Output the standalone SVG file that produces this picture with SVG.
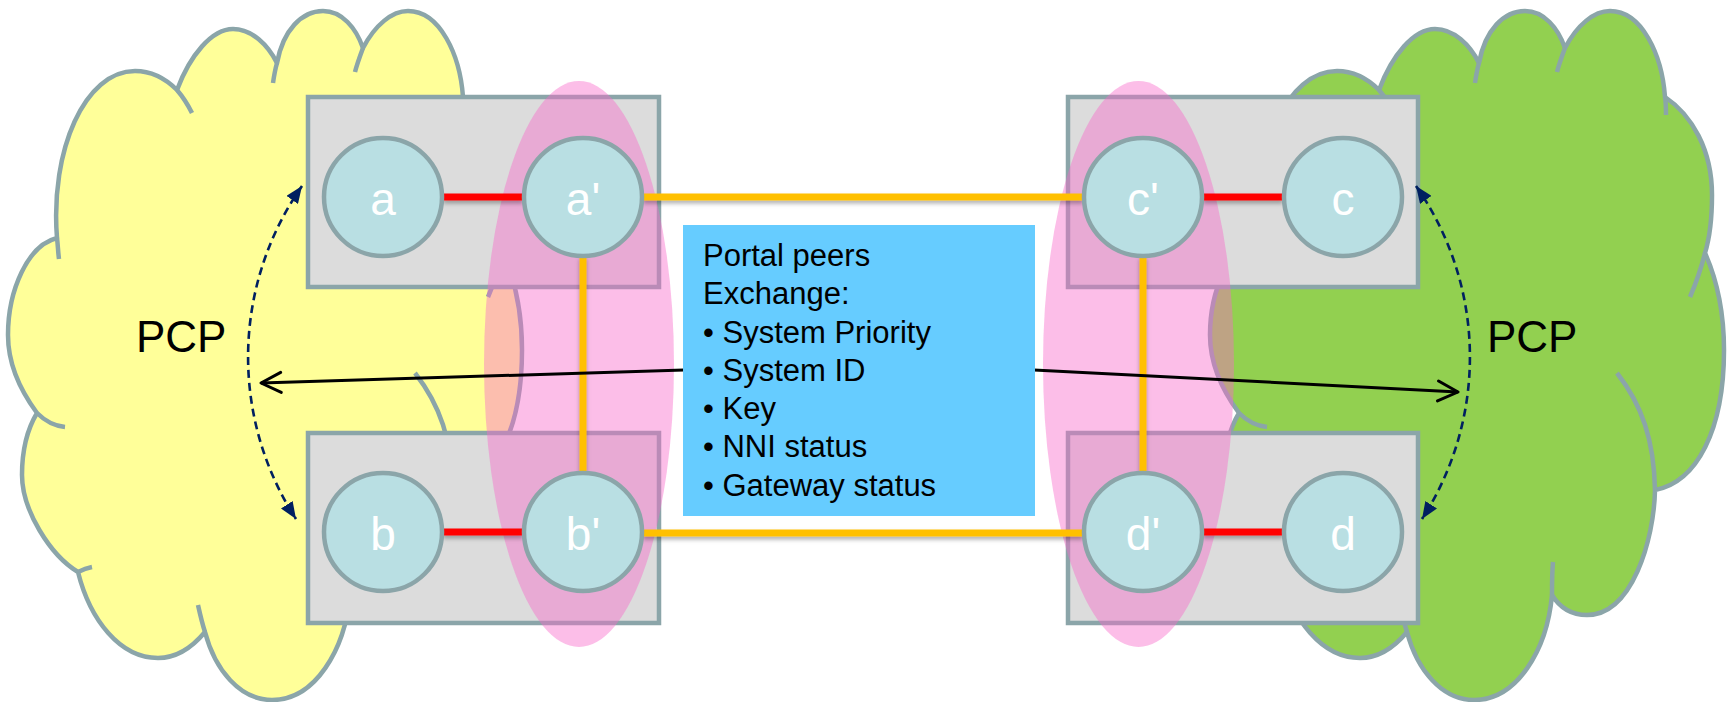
<svg xmlns="http://www.w3.org/2000/svg" xmlns:xlink="http://www.w3.org/1999/xlink" width="1730" height="702" viewBox="0 0 1730 702">
  <defs>
    <style>
      .cloud-edge { stroke: #8BA5A9; stroke-width: 4.5; stroke-linejoin: round; }
      .cloud-tail { fill: none; stroke: #8BA5A9; stroke-width: 4.5; stroke-linecap: butt; }
      .box { fill: #DCDCDC; stroke: #8BA5A9; stroke-width: 4.5; }
      .portal { fill: rgb(248,104,201); fill-opacity: 0.43; }
      .port { fill: #B9DFE3; stroke: #8BA5A9; stroke-width: 4.5; }
      .port-label { font-family: "Liberation Sans", Arial, sans-serif; font-size: 46px; fill: #FFFFFF; text-anchor: middle; }
      .link-local { stroke: #FF0000; stroke-width: 7; fill: none; filter: url(#lineShadow); }
      .link-ipl { stroke: #FFC000; stroke-width: 7; fill: none; filter: url(#lineShadow); }
      .exchange { stroke: #000000; stroke-width: 3; fill: none; marker-end: url(#openArrow); }
      .pcp-arc { stroke: #002060; stroke-width: 2.6; fill: none; stroke-dasharray: 8 5; marker-start: url(#navyHead); marker-end: url(#navyHead); }
      .pcp-label { font-family: "Liberation Sans", Arial, sans-serif; font-size: 44px; fill: #000000; }
      .info-text { font-family: "Liberation Sans", Arial, sans-serif; font-size: 31px; fill: #000000; }
    </style>
    <!-- soft shadow under the link lines; user-space region so zero-height lines still render -->
    <filter id="lineShadow" filterUnits="userSpaceOnUse" x="0" y="0" width="1730" height="702">
      <feDropShadow dx="0" dy="3" stdDeviation="2" flood-color="#000000" flood-opacity="0.3"/>
    </filter>
    <marker id="navyHead" markerUnits="userSpaceOnUse" markerWidth="18" markerHeight="14" refX="17" refY="7" orient="auto-start-reverse">
      <path d="M0,0 L17,7 L0,14 Z" fill="#002060"/>
    </marker>
    <marker id="openArrow" markerUnits="userSpaceOnUse" markerWidth="26" markerHeight="24" refX="23" refY="12" orient="auto">
      <path d="M3,2 L23,12 L3,22" fill="none" stroke="#000000" stroke-width="3" stroke-linecap="round" stroke-linejoin="round"/>
    </marker>
    <!-- cloud outline, drawn in the left cloud's frame -->
    <path id="cloudShape" class="cloud-edge" d="M57,238 C50,150 85,71 135,71 C152,71 166,79 177,90 C190,55 212,29 233,29 C252,29 268,45 277,63 C283,30 302,11 323,11 C342,11 356,28 363,48 C375,25 392,11 408,11 C440,11 460,55 463,97 C490,115 510,150 510,195 C510,220 507,240 503,253 C515,280 522,310 522,350 C522,430 495,482 453,490 C452,540 430,615 385,615 C370,615 358,608 350,595 C345,650 315,700 272,700 C240,700 215,670 205,632 C190,650 175,658 158,658 C120,658 90,620 78,572 C50,555 22,510 22,475 C22,450 28,428 37,413 C20,390 8,365 8,335 C8,290 28,245 57,238 Z"/>
    <!-- inner bump arcs of the cloud -->
    <path id="cloudTails" class="cloud-tail" d="M57,238 C58,246 58,252 59,259 M177,90 C183,97 188,105 192,113 M277,63 C275,70 274,76 273,83 M363,48 C360,56 357,64 355,72 M463,97 C464,103 464,109 464,115 M503,253 C499,269 494,283 488,297 M453,490 C452,440 440,405 415,373 M350,595 C350,584 350,573 351,562 M205,632 C202,623 200,614 198,605 M78,572 C82,570 87,568 92,567 M37,413 C45,421 55,426 65,427"/>
  </defs>

  <!-- peer networks -->
  <g id="cloud-left" fill="#FFFF99">
    <use xlink:href="#cloudShape"/>
    <use xlink:href="#cloudTails"/>
  </g>
  <g id="cloud-right" fill="#92D050" transform="translate(1202,0)">
    <use xlink:href="#cloudShape"/>
    <use xlink:href="#cloudTails"/>
  </g>

  <!-- portal systems -->
  <g id="system-ab-top"><rect class="box" x="308" y="97" width="351" height="190"/></g>
  <g id="system-ab-bottom"><rect class="box" x="308" y="433" width="351" height="190"/></g>
  <g id="system-cd-top"><rect class="box" x="1068" y="97" width="350" height="190"/></g>
  <g id="system-cd-bottom"><rect class="box" x="1068" y="433" width="350" height="190"/></g>

  <!-- portals -->
  <g id="portal-left"><ellipse class="portal" cx="579" cy="364" rx="95" ry="283"/></g>
  <g id="portal-right"><ellipse class="portal" cx="1138.5" cy="364" rx="95.5" ry="283"/></g>

  <!-- links and arrows -->
  <g id="connectors">
    <line class="link-local" x1="443" y1="197" x2="523" y2="197"/>
    <line class="link-local" x1="443" y1="532" x2="523" y2="532"/>
    <line class="link-local" x1="1203" y1="197" x2="1283" y2="197"/>
    <line class="link-local" x1="1203" y1="532" x2="1283" y2="532"/>
    <line class="link-ipl" x1="643" y1="197" x2="1083" y2="197"/>
    <line class="link-ipl" x1="643" y1="533" x2="1083" y2="533"/>
    <line class="link-ipl" x1="583" y1="256" x2="583" y2="473"/>
    <line class="link-ipl" x1="1143" y1="256" x2="1143" y2="473"/>
    <line class="exchange" x1="684" y1="370" x2="261" y2="383"/>
    <line class="exchange" x1="1034" y1="370" x2="1458" y2="392"/>
    <path class="pcp-arc" d="M302,186 A298,298 0 0 0 296,519"/>
    <path class="pcp-arc" d="M1416,186 A298,298 0 0 1 1422,519"/>
  </g>

  <!-- ports -->
  <g id="port-a"><circle class="port" cx="383" cy="197" r="59"/><text class="port-label" x="383" y="215">a</text></g>
  <g id="port-a-prime"><circle class="port" cx="583" cy="197" r="59"/><text class="port-label" x="583" y="215">a'</text></g>
  <g id="port-b"><circle class="port" cx="383" cy="532" r="59"/><text class="port-label" x="383" y="550">b</text></g>
  <g id="port-b-prime"><circle class="port" cx="583" cy="532" r="59"/><text class="port-label" x="583" y="550">b'</text></g>
  <g id="port-c-prime"><circle class="port" cx="1143" cy="197" r="59"/><text class="port-label" x="1143" y="215">c'</text></g>
  <g id="port-c"><circle class="port" cx="1343" cy="197" r="59"/><text class="port-label" x="1343" y="215">c</text></g>
  <g id="port-d-prime"><circle class="port" cx="1143" cy="532" r="59"/><text class="port-label" x="1143" y="550">d'</text></g>
  <g id="port-d"><circle class="port" cx="1343" cy="532" r="59"/><text class="port-label" x="1343" y="550">d</text></g>

  <!-- exchanged information -->
  <g id="info-box">
    <rect x="683" y="225" width="352" height="291" fill="#66CCFF"/>
    <text class="info-text" x="703" y="266">Portal peers</text>
    <text class="info-text" x="703" y="304">Exchange:</text>
    <text class="info-text" x="703" y="343">• System Priority</text>
    <text class="info-text" x="703" y="381">• System ID</text>
    <text class="info-text" x="703" y="419">• Key</text>
    <text class="info-text" x="703" y="457">• NNI status</text>
    <text class="info-text" x="703" y="496">• Gateway status</text>
  </g>

  <g id="label-pcp-left"><text class="pcp-label" x="136" y="352">PCP</text></g>
  <g id="label-pcp-right"><text class="pcp-label" x="1487" y="352">PCP</text></g>
</svg>
